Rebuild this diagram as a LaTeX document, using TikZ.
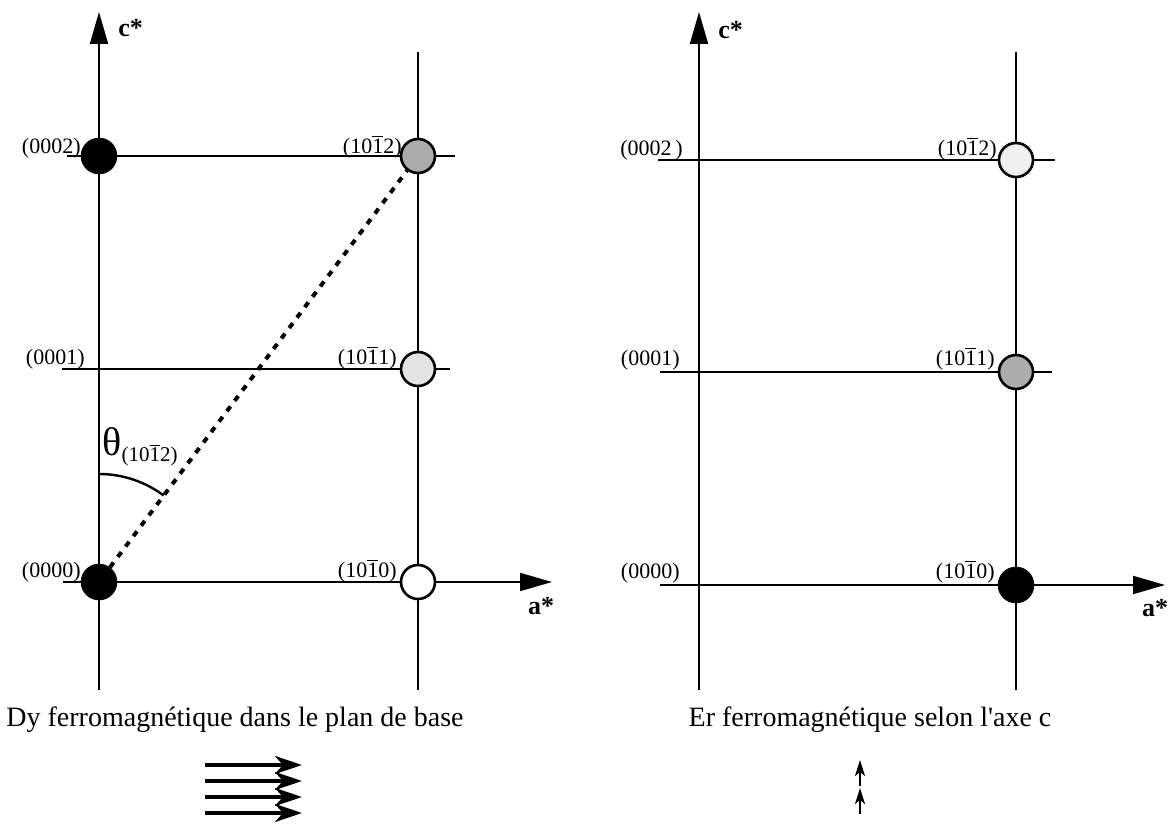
\documentclass[tikz,border=0pt]{standalone}
\usepackage{fontspec}
\setmainfont{Liberation Serif}
\usetikzlibrary{arrows.meta}
\newcommand{\una}{$\overline{\mbox{1}}$}
\newcommand{\apos}{{\addfontfeatures{Ligatures=TeXOff}'}}
\begin{document}
\begin{tikzpicture}[x=0.5pt,y=-0.5pt,
    reja/.style={line width=1pt},
    eje/.style={line width=1pt,-{Triangle[length=16pt,width=9pt]}},
    punto/.style={circle,draw,line width=1.3pt,minimum size=17pt,inner sep=0pt},
    etiq/.style={font=\fontsize{11}{13}\selectfont,anchor=base east,inner sep=0pt},
    ejetxt/.style={font=\fontsize{13}{15}\selectfont\bfseries,inner sep=0pt},
    leyenda/.style={font=\fontsize{14}{16}\selectfont,inner sep=0pt},
    punteado/.style={line width=2pt,dash pattern=on 3pt off 3.5pt},
    flecha/.style={line width=2pt,-{Stealth[length=13.5pt,width=9pt,inset=4pt]}},
    flechita/.style={line width=1.2pt,-{Stealth[length=8pt,width=5pt,inset=2pt]}}]
    \path[use as bounding box] (0,0) rectangle (1173,838);
    % Dy: moments en el plano de base.
    \begin{scope}
        \draw[reja] (418,52) -- (418,690);
        \draw[reja] (67,156) -- (455,156);
        \draw[reja] (62,369) -- (450,369);
        \draw[eje] (63,582) -- (552,582);
        \draw[eje] (99,690) -- (99,12);
        \node[ejetxt,anchor=west] (lc) at (118,28) {c*};
        \node[ejetxt] (la) at (541,606) {a*};
        \node[punto,fill=gray!65] (l1012) at (418,156) {};
        \node[punto,fill=black] (l0002) at (99,156) {};
        \node[punto,fill=gray!22] (l1011) at (418,369) {};
        \node[punto,fill=black] (l0000) at (99,582) {};
        \node[punto,fill=white] (l1010) at (418,582) {};
        \foreach \xx/\yy/\nom/\txt in {81/154/e0002/(0002),402/154/e1012/(10\una2),
                85/365/e0001/(0001),397/365/e1011/(10\una1),
                81/578/e0000/(0000),397/578/e1010/(10\una0)} {
            \node[etiq] (l\nom) at (\xx,\yy) {\txt};
        }
        \draw[punteado] (l0000) -- (l1012);
        \draw[line width=1.2pt] (99,474) arc[start angle=90,end angle=53.2,radius=54pt];
        \node[anchor=base west,inner sep=0pt] (theta) at (102,456)
            {\fontsize{20}{20}\selectfont θ\raisebox{-3pt}{\fontsize{10.5}{11}\selectfont(10\una2)}};
        \node[leyenda] (tdy) at (235,720) {Dy ferromagnétique dans le plan de base};
        \foreach \yy in {765,781,797,813} {
            \draw[flecha] (205,\yy) -- (302,\yy);
        }
    \end{scope}
    % Er: moments selon c.
    \begin{scope}
        \draw[reja] (1016,52) -- (1016,690);
        \draw[reja] (658,160) -- (1055,160);
        \draw[reja] (660,372) -- (1052,372);
        \draw[eje] (660,585) -- (1165,585);
        \draw[eje] (699,690) -- (699,12);
        \node[ejetxt,anchor=west] (rc) at (718,30) {c*};
        \node[ejetxt] (ra) at (1155,608) {a*};
        \node[punto,fill=gray!12] (r1012) at (1016,160) {};
        \node[punto,fill=gray!65] (r1011) at (1016,372) {};
        \node[punto,fill=black] (r1010) at (1016,585) {};
        \foreach \xx/\yy/\nom/\txt in {683/156/e0002/(0002\,),997/156/e1012/(10\una2),
                680/366/e0001/(0001),995/366/e1011/(10\una1),
                680/579/e0000/(0000),995/579/e1010/(10\una0)} {
            \node[etiq] (r\nom) at (\xx,\yy) {\txt};
        }
        \node[leyenda] (ter) at (870,720) {Er ferromagnétique selon l\apos axe c};
        \draw[flechita] (860,786) -- (860,760);
        \draw[flechita] (860,814) -- (860,788);
    \end{scope}
\end{tikzpicture}
\end{document}
